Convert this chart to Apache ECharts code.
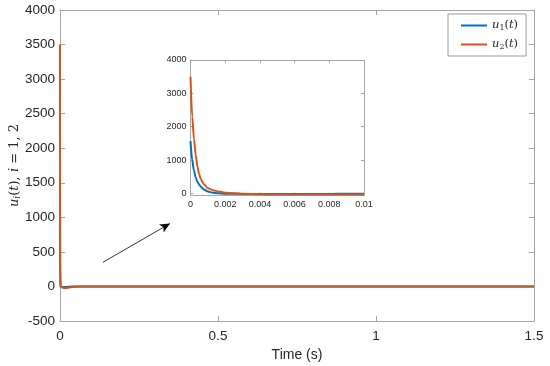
<!DOCTYPE html>
<html><head><meta charset="utf-8">
<script src="https://cdn.jsdelivr.net/npm/echarts@6/dist/echarts.min.js"></script>
<style>html,body{margin:0;padding:0;background:#fff}#c{width:550px;height:366px}</style>
</head><body><div id="c"></div>
<script>
const time = [0, 0.0001, 0.0002, 0.0003, 0.0004, 0.0005, 0.0006, 0.0007, 0.0008, 0.001, 0.0013, 0.0016, 0.002, 0.0025, 0.003, 0.004, 0.005, 0.006, 0.008, 0.009, 0.01, 0.015, 0.02, 0.03, 0.04, 0.05, 0.07, 0.1, 0.5, 1, 1.5];
const u1 = [1570, 1000, 680, 480, 350, 270, 200, 150, 110, 60, 25, 8, -5, -10, -12, -15, -15, -15, -12, -8, -8, -8, -6, -4, -2, -1, 0, 0, 0, 0, 0];
const u2 = [3500, 2300, 1650, 1150, 800, 580, 430, 330, 260, 160, 100, 60, 25, 5, -10, -25, -30, -30, -30, -28, -28, -25, -20, -14, -9, -5, -2, 0, 0, 0, 0];
const mainXTicks = [0, 0.5, 1, 1.5];
const mainYTicks = [-500, 0, 500, 1000, 1500, 2000, 2500, 3000, 3500, 4000];
const insetXTicks = [0, 0.002, 0.004, 0.006, 0.008, 0.01];
const insetYTicks = [0, 1000, 2000, 3000, 4000];
const arrowStart = [0.136, 350];
const arrowEnd = [0.348, 910];
const insetMax = 0.01;

const BLUE = '#0072BD', ORANGE = '#D95319';
const axisCol = '#a6a6a6', txtCol = '#262626';
const pairs = (ys) => time.map((t, i) => [t, ys[i]]);
const insetPairs = (ys) => time.map((t, i) => [t, ys[i]]).filter(p => p[0] <= insetMax + 1e-12);

const richMath = {
  i: {fontFamily: 'DejaVu Serif', fontStyle: 'italic', fontSize: 13, color: txtCol},
  n: {fontFamily: 'DejaVu Serif', fontSize: 13, color: txtCol},
  s: {fontFamily: 'DejaVu Serif', fontStyle: 'italic', fontSize: 9, color: txtCol, padding: [6, 0, 0, 0]}
};

function mkX(grid, ticks, fs, show, pos) {
  return {
    type: 'value', gridIndex: grid, position: pos, min: ticks[0], max: ticks[ticks.length - 1],
    interval: ticks[1] - ticks[0],
    axisLine: {show: true, onZero: false, lineStyle: {color: axisCol, width: 1}},
    axisTick: {show: true, inside: true, length: grid === 0 ? 5 : 3, lineStyle: {color: axisCol}},
    axisLabel: {show: show, color: txtCol, fontSize: fs, fontFamily: 'Liberation Sans', margin: grid === 0 ? 8 : 5,
      formatter: v => String(+(+v).toFixed(6))},
    splitLine: {show: false}
  };
}
function mkY(grid, ticks, fs, show, pos, min) {
  return {
    type: 'value', gridIndex: grid, position: pos, min: min, max: ticks[ticks.length - 1],
    axisLine: {show: true, onZero: false, lineStyle: {color: axisCol, width: 1}},
    axisTick: {show: true, inside: true, length: grid === 0 ? 5 : 3, lineStyle: {color: axisCol}, customValues: ticks},
    axisLabel: {show: show, color: txtCol, fontSize: fs, fontFamily: 'Liberation Sans', margin: grid === 0 ? 5 : 4,
      customValues: ticks, formatter: v => String(Math.round(+v))},
    splitLine: {show: false}
  };
}

const xMain = mkX(0, mainXTicks, 13.5, true, 'bottom');
xMain.name = 'Time (s)';
xMain.nameLocation = 'middle';
xMain.nameGap = 27;
xMain.nameMoveOverlap = false;
xMain.nameTextStyle = {color: txtCol, fontSize: 14, fontFamily: 'Liberation Sans'};
const yMain = mkY(0, mainYTicks, 13.5, true, 'left', -500);
yMain.name = '{i|u}{s|i}{n|(}{i|t}{n|), }{i|i}{n| = 1, 2}';
yMain.nameLocation = 'middle';
yMain.nameGap = 38;
yMain.nameMoveOverlap = false;
yMain.nameTextStyle = {rich: richMath};

const option = {
  animation: false,
  backgroundColor: '#fff',
  grid: [
    {left: 60, right: 16, top: 10, bottom: 45, containLabel: false, outerBoundsMode: 'none'},
    {left: 190.5, width: 173.5, top: 60, height: 135.5, containLabel: false, outerBoundsMode: 'none'}
  ],
  xAxis: [
    xMain,
    mkX(0, mainXTicks, 13.5, false, 'top'),
    mkX(1, insetXTicks, 9, true, 'bottom'),
    mkX(1, insetXTicks, 9, false, 'top')
  ],
  yAxis: [
    yMain,
    mkY(0, mainYTicks, 13.5, false, 'right', -500),
    mkY(1, insetYTicks, 9, true, 'left', -60),
    mkY(1, insetYTicks, 9, false, 'right', -60)
  ],
  legend: {
    orient: 'vertical', left: 448, top: 14, width: 80,
    padding: [5, 8, 5, 13], itemGap: 6,
    itemWidth: 26, itemHeight: 2, icon: 'rect',
    backgroundColor: '#fff', borderColor: '#999', borderWidth: 1,
    data: ['u1', 'u2'],
    formatter: n => n === 'u1' ? '{i|u}{sn|1}{n|(}{i|t}{n|)}' : '{i|u}{sn|2}{n|(}{i|t}{n|)}',
    textStyle: {rich: {
      i: {fontFamily: 'DejaVu Serif', fontStyle: 'italic', fontSize: 11.5, color: txtCol, lineHeight: 15},
      n: {fontFamily: 'DejaVu Serif', fontSize: 11.5, color: txtCol, lineHeight: 15},
      sn: {fontFamily: 'DejaVu Serif', fontSize: 8, color: txtCol, padding: [5, 0, 0, 0], lineHeight: 15}
    }}
  },
  series: [
    {name: 'u1', type: 'line', xAxisIndex: 0, yAxisIndex: 0, data: pairs(u1), showSymbol: false, symbol: 'none',
      lineStyle: {color: BLUE, width: 2}, itemStyle: {color: BLUE}},
    {name: 'u2', type: 'line', xAxisIndex: 0, yAxisIndex: 0, data: pairs(u2), showSymbol: false, symbol: 'none',
      lineStyle: {color: ORANGE, width: 2}, itemStyle: {color: ORANGE},
      markLine: {silent: true, symbol: ['none', 'arrow'], symbolSize: [7, 10],
        lineStyle: {color: '#000', width: 0.8, type: 'solid'}, label: {show: false},
        data: [[{coord: arrowStart}, {coord: arrowEnd}]]}},
    {name: 'u1', type: 'line', xAxisIndex: 2, yAxisIndex: 2, data: insetPairs(u1), showSymbol: false, symbol: 'none',
      smooth: 0.3, smoothMonotone: 'x',
      lineStyle: {color: BLUE, width: 2}, itemStyle: {color: BLUE}},
    {name: 'u2', type: 'line', xAxisIndex: 2, yAxisIndex: 2, data: insetPairs(u2), showSymbol: false, symbol: 'none',
      smooth: 0.3, smoothMonotone: 'x',
      lineStyle: {color: ORANGE, width: 2}, itemStyle: {color: ORANGE}}
  ]
};
const chart = echarts.init(document.getElementById('c'), null, {renderer: 'canvas'});
chart.setOption(option);
</script></body></html>
